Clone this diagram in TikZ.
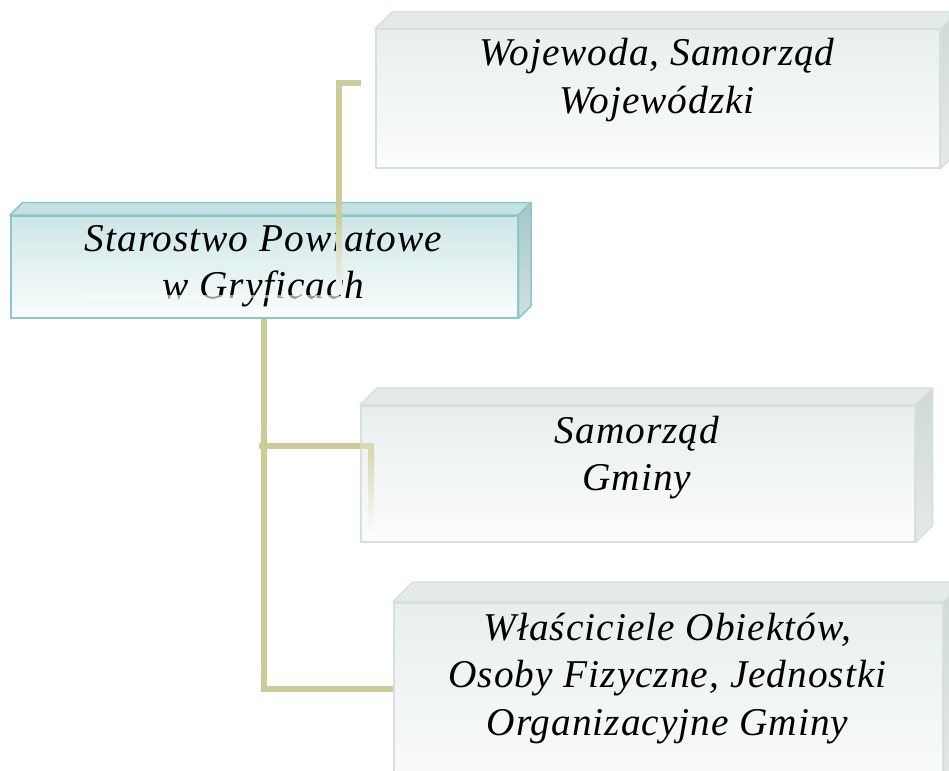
\documentclass[tikz,border=0pt]{standalone}
\usepackage{fontspec}
\setmainfont{Liberation Serif}
\newfontfamily\boxfont[LetterSpace=2.5]{Liberation Serif}
\usetikzlibrary{calc}

\definecolor{linec}{RGB}{204,204,153}
\definecolor{stborder}{RGB}{140,200,200}
\definecolor{sttop}{RGB}{196,226,226}
\definecolor{stfrontA}{RGB}{206,230,230}
\definecolor{stfrontB}{RGB}{250,253,253}
\definecolor{stside}{RGB}{166,200,200}
\definecolor{gborder}{RGB}{214,224,224}
\definecolor{gtop}{RGB}{228,234,234}
\definecolor{gfrontA}{RGB}{232,238,238}
\definecolor{gfrontB}{RGB}{252,253,253}
\definecolor{gside}{RGB}{208,216,216}

\tikzset{
  frontface/.style={draw, line width=1.5bp, inner sep=0pt, anchor=north west},
  stfront/.style={frontface, draw=stborder, top color=stfrontA, bottom color=stfrontB},
  gfront/.style={frontface, draw=gborder, top color=gfrontA, bottom color=gfrontB},
  txt/.style={font=\boxfont\fontsize{39.5}{48}\selectfont\itshape, inner sep=0pt, anchor=base},
  conn/.style={draw=linec, line width=6bp, line join=miter, line cap=butt},
}

\newcommand\drawcube[5]{%
  \filldraw[fill=#3, draw=#5, line width=1.5bp, line join=round]
    (#1.north west) -- ++(#2,-#2) -- ($(#1.north east)+(#2,-#2)$) -- (#1.north east) -- cycle;
  \filldraw[top color=#4, bottom color=#4!55!white, draw=#5, line width=1.5bp, line join=round]
    (#1.north east) -- ++(#2,-#2) -- ($(#1.south east)+(#2,-#2)$) -- (#1.south east) -- cycle;
}

\begin{document}
\begin{tikzpicture}[x=1bp,y=-1bp]
\useasboundingbox (0,0) rectangle (949,771);
\clip (0,0) rectangle (949,771);

% boxes (front faces)
\node[gfront, minimum width=564bp, minimum height=138bp] (wo) at (375,29) {};
\drawcube{wo}{17}{gtop}{gside}{gborder}

\node[stfront, minimum width=507bp, minimum height=102bp] (st) at (10,215) {};
\drawcube{st}{12.5}{sttop}{stside}{stborder}

\node[gfront, minimum width=554bp, minimum height=136bp] (sg) at (360,405) {};
\drawcube{sg}{17}{gtop}{gside}{gborder}

\node[gfront, minimum width=549bp, minimum height=200bp] (wl) at (393,602) {};
\drawcube{wl}{20}{gtop}{gside}{gborder}

% texts
\node[txt] (wot) at (657,66) {\begin{tabular}[t]{@{}c@{}}Wojewoda, Samorząd\\Wojewódzki\end{tabular}};
\node[txt] (stt) at (263.5,251) {\begin{tabular}[t]{@{}c@{}}Starostwo Powiatowe\\w Gryficach\end{tabular}};
\node[txt] (sgt) at (637,443) {\begin{tabular}[t]{@{}c@{}}Samorząd\\Gminy\end{tabular}};
\node[txt] (wlt) at (667.5,640) {\begin{tabular}[t]{@{}c@{}}Właściciele Obiektów,\\Osoby Fizyczne, Jednostki\\Organizacyjne Gminy\end{tabular}};

% connectors
\coordinate (wj) at (361,83);
\coordinate (vu) at (339,215);
\coordinate (yb) at (0,689);
\coordinate (yg) at (0,446);
\coordinate (yw) at (0,296);

\draw[white, line width=3bp, opacity=0.6] (83,296) -- (vu |- yw);
\draw[conn] (wj) -| (vu);
\shade[top color=linec, bottom color=stfrontA!40!white] ($(vu)+(-3,0)$) rectangle ($(vu)+(3,75)$);

\draw[conn] (st.south) |- (wl.west |- yb);
\draw[conn] ($(st.south |- yg)+(-5.5,0)$) -- (sg.west |- yg);
\draw[linec!75!white, line width=6bp, line join=miter] (sg.west |- yg) -- (371,446) -- (371,452);
\shade[top color=linec!75!white, bottom color=gfrontB] (368,452) rectangle (374,535);
\end{tikzpicture}
\end{document}
